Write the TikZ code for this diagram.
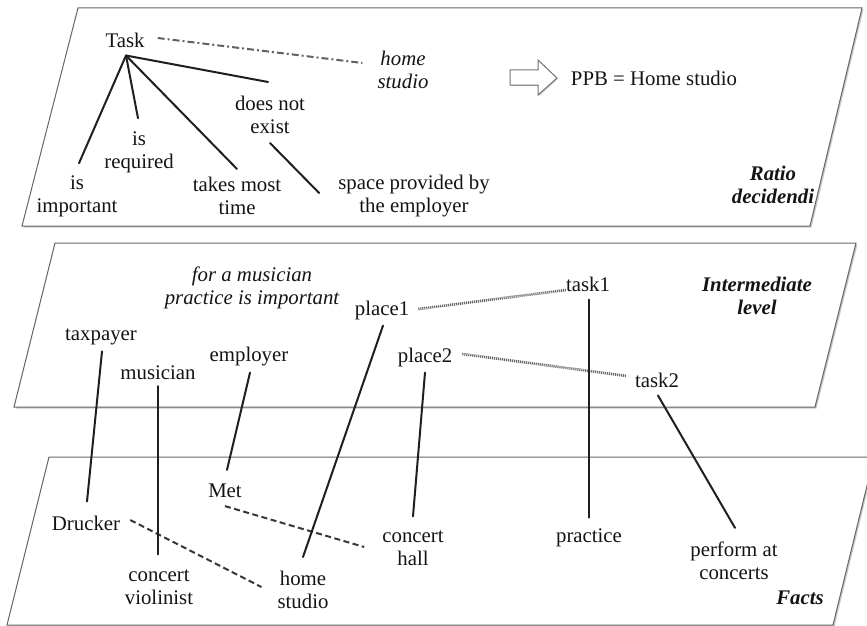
\documentclass[tikz,border=0pt]{standalone}
\usepackage{fontspec}
\setmainfont{Liberation Serif}
\usetikzlibrary{shadows}
\begin{document}
\begin{tikzpicture}[x=1pt,y=-1pt,
  every node/.style={font=\fontsize{20.8}{23}\selectfont, text=black!92, inner sep=0pt, align=center},
  lbl/.style={font=\fontsize{20.8}{23}\selectfont\itshape},
  lvl/.style={font=\fontsize{20.8}{23}\selectfont\bfseries\itshape},
  panel/.style={draw=black!60, line width=1pt, fill=white,
    drop shadow={shadow xshift=1.5pt, shadow yshift=-1.5pt, opacity=0.3, fill=black!70}},
  link/.style={draw=black!88, line width=2pt, line cap=round},
  dashlink/.style={draw=black!78, line width=2pt, dash pattern=on 6pt off 3.5pt},
  dotlink/.style={draw=black!60, line width=2.6pt, dash pattern=on 1.1pt off 0.9pt},
  dashdotlink/.style={draw=black!62, line width=2pt, dash pattern=on 7pt off 3pt on 2pt off 3pt}
]
\useasboundingbox (0,0) rectangle (867,626);
\clip (0,0) rectangle (867,626);

% the three levels
\path[panel] (78,8) -- (862,8) -- (810,226) -- (22,226) -- cycle;
\path[panel] (55,243) -- (856,243) -- (815,407) -- (14,407) -- cycle;
\path[panel] (49,457) -- (874,457) -- (833,625) -- (7,625) -- cycle;

% ---- ratio decidendi ----
\node (task) at (125,40) {Task};
\node[lbl] (hs) at (403,70) {home\\studio};
\node (imp) at (77,196) {is\\important};
\node (req) at (139,152) {is\\required};
\node (tmt) at (237,196) {takes most\\time};
\node (dne) at (270,115) {does not\\exist};
\node (spe) at (414,196) {space provided by\\the employer};
\node (ppb) at (654,78) {PPB = Home studio};
\node[lvl] (rd) at (773,185) {Ratio\\decidendi};

\path[draw=black!55, fill=white, line width=1pt,
  drop shadow={shadow xshift=1pt, shadow yshift=-1pt, opacity=0.3, fill=black!70}]
  (510,70) -- (538,70) -- (538,60) -- (557,78) -- (538,95) -- (538,85) -- (510,85) -- cycle;

\path[dashdotlink] ([xshift=13pt,yshift=2pt]task.east) -- ([xshift=-15pt,yshift=7pt]hs.west);
\path[link] ([xshift=1pt,yshift=-8pt]task.south) -- ([xshift=2pt,yshift=12pt]imp.north);
\path[link] ([xshift=1pt,yshift=-8pt]task.south) -- ([xshift=-1pt,yshift=13pt]req.north);
\path[link] ([xshift=1pt,yshift=-8pt]task.south) -- ([yshift=8pt]tmt.north);
\path[link] ([xshift=1pt,yshift=-8pt]task.south) -- ([xshift=-2pt,yshift=14pt]dne.north);
\path[link] ([yshift=-9pt]dne.south) -- ([xshift=-19pt,yshift=3pt]spe.west);

% ---- intermediate level ----
\node[lbl] (mus) at (252,288) {for a musician\\practice is important};
\node (tax) at (101,337) {taxpayer};
\node (musn) at (158,373) {musician};
\node (emp) at (249,357) {employer};
\node (pl1) at (382,310) {place1};
\node (pl2) at (425,357) {place2};
\node (t1) at (588,284) {task1};
\node (t2) at (657,380) {task2};
\node[lvl] (il) at (757,296) {Intermediate\\level};

\path[dotlink] ([xshift=9pt,yshift=1pt]pl1.east) -- ([yshift=-6pt]t1.west);
\path[dotlink] ([xshift=10pt,yshift=3pt]pl2.east) -- ([xshift=-8pt,yshift=4pt]t2.west);

% ---- facts ----
\node (dru) at (86,523) {Drucker};
\node (met) at (225,491) {Met};
\node (cv) at (159,587) {concert\\violinist};
\node (hsb) at (303,590) {home\\studio};
\node (ch) at (413,548) {concert\\hall};
\node (pra) at (589,538) {practice};
\node (pf) at (734,561) {perform at\\concerts};
\node[lvl] (fa) at (800,598) {Facts};

\path[dashlink] ([xshift=10pt,yshift=3pt]dru.east) -- ([xshift=-16pt,yshift=3pt]hsb.west);
\path[dashlink] ([yshift=-8pt]met.south) -- ([xshift=-18pt,yshift=1pt]ch.west);

% links between the levels
\path[link] ([xshift=1pt,yshift=-6pt]tax.south) -- ([xshift=1pt,yshift=14pt]dru.north);
\path[link] ([yshift=-6pt]musn.south) -- ([xshift=-1pt,yshift=15pt]cv.north);
\path[link] ([xshift=1pt,yshift=-6pt]emp.south) -- ([xshift=2pt,yshift=14pt]met.north);
\path[link] ([xshift=1pt,yshift=-6pt]pl1.south) -- ([yshift=14pt]hsb.north);
\path[link] ([yshift=-6pt]pl2.south) -- ([yshift=14pt]ch.north);
\path[link] ([xshift=1pt,yshift=-8pt]t1.south) -- ([yshift=11pt]pra.north);
\path[link] ([xshift=1pt,yshift=-8pt]t2.south) -- ([xshift=1pt,yshift=14pt]pf.north);
\end{tikzpicture}
\end{document}
